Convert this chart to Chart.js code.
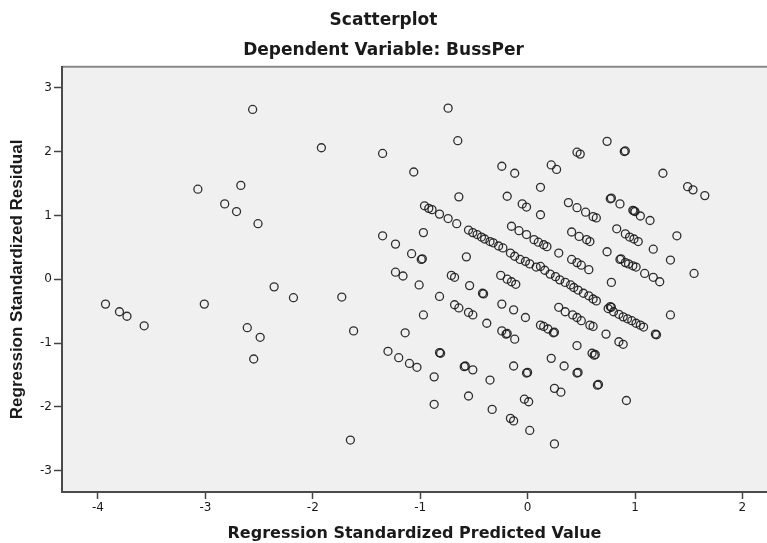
<!DOCTYPE html>
<html>
<head>
<meta charset="utf-8">
<title>Scatterplot</title>
<script src="https://cdn.jsdelivr.net/npm/chart.js@4"></script>
<style>
  html, body { margin: 0; padding: 0; background: #fff; }
  canvas { display: block; }
</style>
</head>
<body>
<canvas id="scatter" width="767" height="543"></canvas>
<script>
// tick labels
const xTicks = [-4, -3, -2, -1, 0, 1, 2];
const yTicks = [-3, -2, -1, 0, 1, 2, 3];

// [predicted, residual] pairs
const leftGroup = [
  [-3.93,-0.39],[-3.80,-0.51],[-3.73,-0.58],[-3.57,-0.73],
  [-3.07,1.41],[-3.01,-0.39],[-2.82,1.18],[-2.71,1.06],[-2.67,1.47],
  [-2.56,2.66],[-2.61,-0.76],[-2.55,-1.25],[-2.51,0.87],[-2.49,-0.91],
  [-2.36,-0.12],[-2.18,-0.29],[-1.92,2.06],[-1.73,-0.28],[-1.62,-0.81],[-1.65,-2.52]
];
const upperScatter = [
  [-1.35,1.97],[-1.06,1.68],[-0.74,2.68],[-0.65,2.17],[-0.24,1.77],[-0.12,1.66],
  [0.22,1.79],[0.27,1.72],[0.12,1.44],[0.46,1.99],[0.49,1.96],[0.74,2.16],
  [0.90,2.00],[0.91,2.01],[1.26,1.66],[1.49,1.45],[1.54,1.40],[1.65,1.31],
  [-0.64,1.29],[-0.19,1.30],[-0.05,1.18],[-0.01,1.13],[0.12,1.01],
  [0.38,1.20],[1.39,0.68],[1.33,0.30],[1.55,0.09],[1.33,-0.56]
];
const mainBand = [
  [-0.96,1.15],[-0.92,1.11],[-0.89,1.09],[-0.82,1.02],[-0.74,0.95],[-0.66,0.87],
  [-0.55,0.77],[-0.51,0.73],[-0.47,0.70],[-0.43,0.66],[-0.40,0.63],[-0.35,0.59],
  [-0.32,0.57],[-0.27,0.52],[-0.23,0.49],[-0.16,0.41],[-0.12,0.36],[-0.07,0.31],
  [-0.02,0.28],[0.02,0.24],[0.08,0.19],[0.12,0.20],[0.16,0.14],[0.21,0.08],
  [0.26,0.04],[0.30,-0.01],[0.35,-0.05],[0.40,-0.09],[0.43,-0.13],[0.47,-0.17],
  [0.52,-0.22],[0.57,-0.26],[0.61,-0.31],[0.64,-0.34],
  [0.77,-0.43],[0.78,-0.44],[0.75,-0.46],[0.80,-0.51],[0.85,-0.55],[0.89,-0.59],
  [0.93,-0.62],[0.97,-0.65],[1.01,-0.69],[1.05,-0.72],[1.08,-0.75],[1.19,-0.86],[1.20,-0.87]
];
const bandsAbove = [
  [-0.15,0.83],[-0.08,0.76],[-0.01,0.70],[0.06,0.62],[0.10,0.58],[0.15,0.54],[0.18,0.51],[0.29,0.41],
  [0.41,0.74],[0.48,0.67],[0.55,0.62],[0.58,0.59],[0.74,0.43],
  [0.46,1.12],[0.54,1.05],[0.61,0.98],[0.64,0.96],
  [0.77,1.26],[0.78,1.27],[0.86,1.18],[0.98,1.08],[0.99,1.07],[1.00,1.06],[1.05,0.99],[1.14,0.92],
  [0.83,0.79],[0.91,0.71],[0.95,0.66],[0.99,0.63],[1.03,0.59],[1.17,0.47],
  [0.41,0.31],[0.46,0.26],[0.50,0.22],[0.57,0.15],
  [0.86,0.31],[0.87,0.32],[0.91,0.26],[0.94,0.24],[0.98,0.21],[1.01,0.19],[1.09,0.09],[1.17,0.03],[1.23,-0.04],
  [0.78,-0.05]
];
const bandsBelow = [
  [-1.35,0.68],[-1.23,0.55],[-0.97,0.73],[-1.08,0.40],[-0.99,0.31],[-0.98,0.32],[-0.57,0.35],
  [-1.23,0.11],[-1.16,0.05],[-1.01,-0.09],[-0.71,0.06],[-0.68,0.03],[-0.54,-0.10],
  [-0.41,-0.23],[-0.42,-0.22],[-0.25,0.06],[-0.19,0.00],[-0.15,-0.04],[-0.11,-0.08],
  [-0.82,-0.27],[-0.68,-0.40],[-0.64,-0.45],[-0.55,-0.52],[-0.51,-0.56],[-0.38,-0.69],
  [-0.24,-0.39],[-0.13,-0.48],[-0.02,-0.60],
  [-0.24,-0.81],[-0.20,-0.86],[-0.19,-0.85],[-0.12,-0.94],
  [0.12,-0.72],[0.15,-0.74],[0.19,-0.78],[0.24,-0.84],[0.25,-0.83],
  [0.29,-0.44],[0.35,-0.51],[0.42,-0.56],[0.46,-0.60],[0.50,-0.65],[0.58,-0.72],[0.61,-0.74],
  [-0.97,-0.56],[-1.14,-0.84]
];
const lowerGroup = [
  [-0.82,-1.15],[-0.81,-1.16],[-1.30,-1.13],[-1.20,-1.23],[-1.10,-1.32],[-1.03,-1.38],
  [-0.87,-1.53],[-0.58,-1.36],[-0.59,-1.37],[-0.51,-1.42],[-0.35,-1.58],
  [-0.13,-1.36],[-0.01,-1.47],[0.00,-1.46],[0.22,-1.24],
  [-0.87,-1.96],[-0.55,-1.83],[-0.33,-2.04],[-0.03,-1.88],[0.01,-1.92],
  [-0.16,-2.18],[-0.13,-2.22],[0.02,-2.37],[0.25,-2.58],
  [0.73,-0.86],[0.85,-0.98],[0.89,-1.02],[0.46,-1.04],[0.60,-1.16],[0.62,-1.19],[0.63,-1.18],
  [0.34,-1.36],[0.46,-1.47],[0.47,-1.46],[0.65,-1.66],[0.66,-1.65],[0.25,-1.71],[0.31,-1.77],[0.92,-1.90]
];

const allPoints = [].concat(leftGroup, upperScatter, mainBand, bandsAbove, bandsBelow, lowerGroup)
  .map(p => ({ x: p[0], y: p[1] }));

// grey plot area plus the thin frame line on top
const plotBackground = {
  id: 'plotBackground',
  beforeDraw(chart) {
    const { ctx, chartArea: a } = chart;
    ctx.save();
    ctx.fillStyle = '#f0f0f0';
    ctx.fillRect(a.left, a.top, a.right - a.left, a.bottom - a.top);
    ctx.strokeStyle = '#8a8a8a';
    ctx.lineWidth = 2;
    ctx.beginPath();
    ctx.moveTo(a.left, a.top);
    ctx.lineTo(a.right, a.top);
    ctx.stroke();
    ctx.restore();
  }
};

const tickFont = { family: 'DejaVu Sans', size: 12 };
const textColor = '#1a1a1a';

// fixed axis sizes so the plot box lands where the reference has it
function fixBox(size, horizontal) {
  return function (scale) {
    if (horizontal) scale.height = size; else scale.width = size;
    scale.paddingLeft = 0;
    scale.paddingRight = 0;
    scale.paddingTop = 0;
    scale.paddingBottom = 0;
  };
}

new Chart(document.getElementById('scatter'), {
  type: 'scatter',
  data: {
    datasets: [{
      data: allPoints,
      pointStyle: 'circle',
      pointRadius: 4,
      pointBorderWidth: 1.3,
      borderColor: 'rgba(25,25,25,0.9)',
      backgroundColor: 'rgba(0,0,0,0)'
    }]
  },
  options: {
    responsive: false,
    animation: false,
    events: [],
    layout: { padding: 0, autoPadding: false },
    plugins: {
      legend: { display: false },
      tooltip: { enabled: false },
      title: {
        display: true,
        text: 'Scatterplot',
        color: textColor,
        font: { family: 'DejaVu Sans', size: 17, weight: 'bold' },
        padding: { top: 10, bottom: 0 }
      },
      subtitle: {
        display: true,
        text: 'Dependent Variable: BussPer',
        color: textColor,
        font: { family: 'DejaVu Sans', size: 17, weight: 'bold' },
        padding: { top: 10, bottom: 6 }
      }
    },
    scales: {
      x: {
        type: 'linear',
        min: -4.335,
        max: 2.229,
        afterFit: fixBox(51, true),
        afterBuildTicks: function (scale) { scale.ticks = xTicks.map(v => ({ value: v })); },
        grid: { drawOnChartArea: false, drawTicks: true, tickLength: 7, tickColor: '#444', tickWidth: 1.5 },
        border: { display: true, color: '#4a4a4a', width: 2 },
        ticks: { font: tickFont, color: textColor, padding: 2, maxRotation: 0 },
        title: {
          display: true,
          text: 'Regression Standardized Predicted Value',
          color: textColor,
          font: { family: 'DejaVu Sans', size: 16, weight: 'bold' },
          padding: { top: 0, bottom: 0 }
        }
      },
      y: {
        type: 'linear',
        min: -3.334,
        max: 3.328,
        afterFit: fixBox(62, false),
        afterBuildTicks: function (scale) { scale.ticks = yTicks.map(v => ({ value: v })); },
        grid: { drawOnChartArea: false, drawTicks: true, tickLength: 8, tickColor: '#444', tickWidth: 1.5 },
        border: { display: true, color: '#4a4a4a', width: 2 },
        ticks: { font: tickFont, color: textColor, padding: 2 },
        title: {
          display: true,
          text: 'Regression Standardized Residual',
          color: textColor,
          font: { family: 'Liberation Sans', size: 17, weight: 'bold' },
          padding: { top: 7, bottom: 0 }
        }
      }
    }
  },
  plugins: [plotBackground]
});
</script>
</body>
</html>
